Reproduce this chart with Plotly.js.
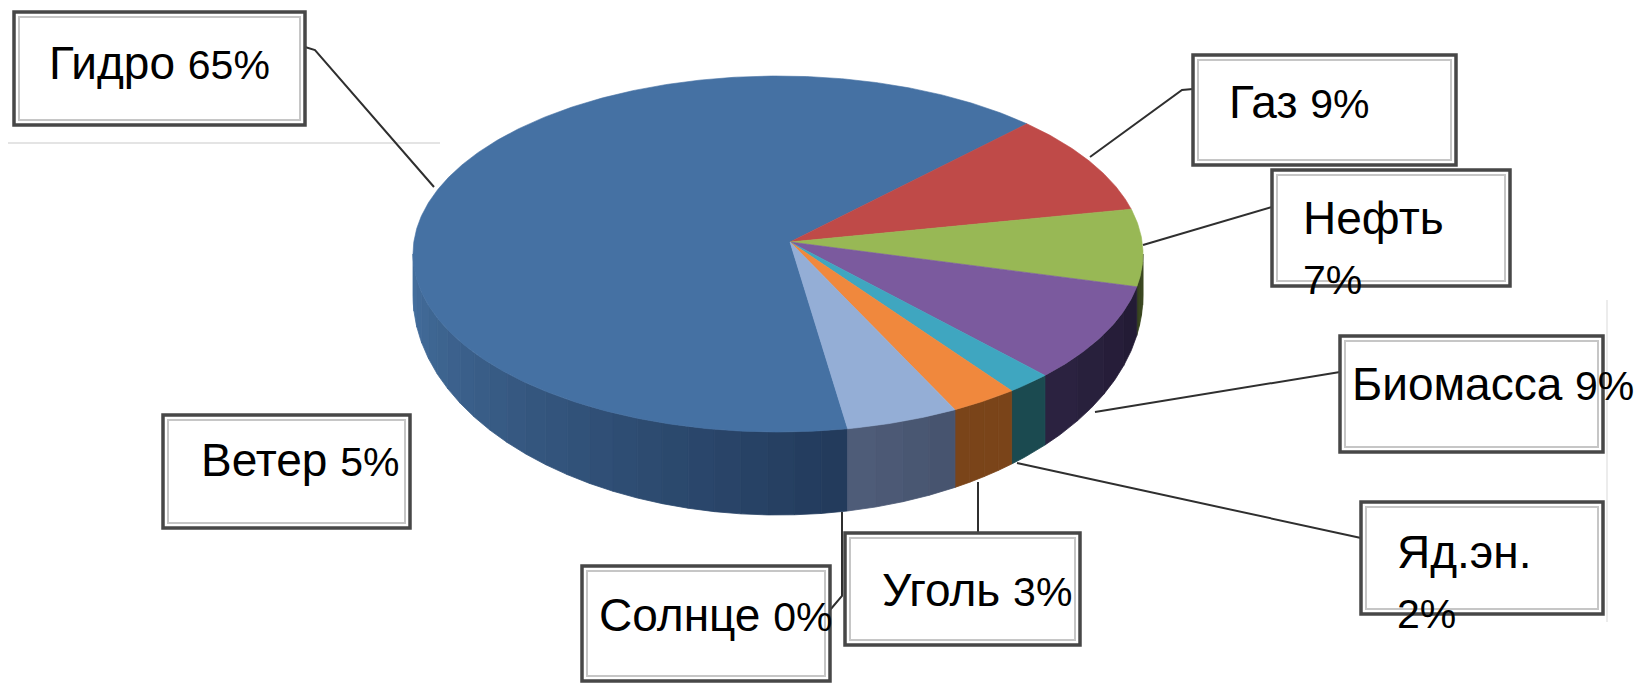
<!DOCTYPE html>
<html>
<head>
<meta charset="utf-8">
<script src="https://cdn.plot.ly/plotly-3.0.1.min.js"></script>
<style>
  html, body { margin: 0; padding: 0; background: #ffffff; }
  #chart { width: 1643px; height: 683px; }
</style>
</head>
<body>
<div id="chart"></div>
<script>
// ---------------- data ----------------
const labels = ['Гидро', 'Газ', 'Нефть', 'Биомасса', 'Яд.эн.', 'Уголь', 'Солнце', 'Ветер'];
const values = [65, 9, 7, 9, 2, 3, 0, 5];

// ---------------- styles ----------------
const topColors = ['#4571A3', '#BF4A48', '#98B855', '#7B5A9E', '#3FA6C0', '#F0883D', '#A5A5A5', '#94AED6'];
const sideColors = [
  ['#45709F', '#223A5B'],
  ['#6A2624', '#6A2624'],
  ['#3A4620', '#3A4620'],
  ['#2C2342', '#221A33'],
  ['#1B4A50', '#1B4A50'],
  ['#7A4419', '#7A4419'],
  ['#555555', '#555555'],
  ['#4F5D79', '#46536E']
];
// pie geometry (in page pixels, axes map 1:1 to pixels)
const pie = { cx: 778, cy: 254, a: 365, b: 178, t0: 41, dt: 42, apx: 790, apy: 242, start: 281 };

// label boxes [x0, x1, y0, y1]
const boxes = [
  [14, 305, 12, 125],
  [1193, 1456, 55, 165],
  [1272, 1510, 170, 286],
  [1340, 1603, 336, 452],
  [1361, 1603, 502, 614],
  [845, 1080, 533, 645],
  [582, 830, 566, 681],
  [163, 410, 415, 528]
];
const textPos = [
  [47, 63], [1227, 102], [1301, 247], [1350, 384], [1395, 581], [880, 590], [597, 615], [199, 460]
];
const seps = [' ', ' ', '<br>', ' ', '<br>', ' ', ' ', ' '];
const leaders = [
  'M 305 47 L 315 50 L 434 187',
  'M 1090 157 L 1182 90 L 1193 89',
  'M 1143 245 L 1272 207',
  'M 1095 412 L 1340 372',
  'M 1017 463 L 1361 538',
  'M 978 482 L 978 533',
  'M 842 512 L 842 596 L 830 610',
  null
];

// ---------------- geometry helpers ----------------
function rimPt(th, bottom) {
  const r = th * Math.PI / 180;
  const c = Math.cos(r), s = Math.sin(r);
  if (!bottom) return [pie.cx + pie.a * c, pie.cy - pie.b * s];
  return [pie.cx + pie.a * c, pie.cy + pie.t0 - (pie.b + pie.dt) * s];
}
function hex2rgb(h) { h = h.replace('#', ''); return [0, 2, 4].map(i => parseInt(h.substr(i, 2), 16)); }
function lerpColor(c0, c1, f) {
  const a = hex2rgb(c0), b = hex2rgb(c1);
  const m = a.map((v, i) => Math.round(v + (b[i] - v) * f));
  return 'rgb(' + m.join(',') + ')';
}

const total = values.reduce((s, v) => s + v, 0);
const sideTraces = [];
const topTraces = [];
let cur = pie.start;
values.forEach((v, i) => {
  const span = v / total * 360;
  const s0 = cur, s1 = cur - span;
  cur = s1;
  if (span <= 0) return;
  // top face
  const xs = [pie.apx], ys = [pie.apy];
  const n = Math.max(2, Math.ceil(span / 0.5));
  for (let k = 0; k <= n; k++) {
    const p = rimPt(s0 - span * k / n, false);
    xs.push(p[0]); ys.push(p[1]);
  }
  xs.push(pie.apx); ys.push(pie.apy);
  topTraces.push({
    type: 'scatter', mode: 'lines', x: xs, y: ys, fill: 'toself',
    fillcolor: topColors[i], line: { color: topColors[i], width: 0.6 },
    hoverinfo: 'skip', showlegend: false, name: labels[i]
  });
  // side faces (front, lower half of ellipse)
  const lowers = [[-180, 0], [180, 360], [540, 720]];
  lowers.forEach(iv => {
    const u = Math.max(iv[0], s1), w = Math.min(iv[1], s0);
    if (w - u <= 0.01) return;
    const nSeg = (i === 0) ? 24 : ((w - u) > 10 ? 4 : 1);
    for (let g = 0; g < nSeg; g++) {
      const ta = u + (w - u) * g / nSeg;
      const tb = u + (w - u) * (g + 1) / nSeg;
      const f = (g + 0.5) / nSeg;
      const col = lerpColor(sideColors[i][0], sideColors[i][1], f);
      const sx = [], sy = [];
      const m = Math.max(2, Math.ceil((tb - ta) / 0.5));
      for (let k = 0; k <= m; k++) { const p = rimPt(ta + (tb - ta) * k / m, false); sx.push(p[0]); sy.push(p[1]); }
      for (let k = m; k >= 0; k--) { const p = rimPt(ta + (tb - ta) * k / m, true); sx.push(p[0]); sy.push(p[1]); }
      sx.push(sx[0]); sy.push(sy[0]);
      sideTraces.push({
        type: 'scatter', mode: 'lines', x: sx, y: sy, fill: 'toself',
        fillcolor: col, line: { color: col, width: 0.8 },
        hoverinfo: 'skip', showlegend: false, name: labels[i] + ' side'
      });
    }
  });
});

// ---------------- labels: boxes, texts, leader lines ----------------
const shapes = [];
shapes.push({ type: 'line', xref: 'x', yref: 'y', x0: 8, x1: 440, y0: 143, y1: 143, line: { color: '#e4e4e4', width: 2 }, layer: 'below' });
shapes.push({ type: 'line', xref: 'x', yref: 'y', x0: 1607, x1: 1607, y0: 300, y1: 622, line: { color: '#ececec', width: 2 }, layer: 'below' });

leaders.forEach(p => {
  if (!p) return;
  shapes.push({ type: 'path', xref: 'x', yref: 'y', path: p, line: { color: '#2f2f2f', width: 2 } });
});
boxes.forEach(bx => {
  shapes.push({ type: 'rect', xref: 'x', yref: 'y', x0: bx[0], x1: bx[1], y0: bx[2], y1: bx[3],
    fillcolor: '#ffffff', line: { color: '#474747', width: 3.5 } });
  shapes.push({ type: 'rect', xref: 'x', yref: 'y', x0: bx[0] + 5, x1: bx[1] - 5, y0: bx[2] + 5, y1: bx[3] - 5,
    fillcolor: 'rgba(0,0,0,0)', line: { color: '#c6c6c6', width: 2 } });
});

const annotations = labels.map((lab, i) => ({
  xref: 'x', yref: 'y', x: textPos[i][0], y: textPos[i][1],
  xanchor: 'left', yanchor: 'middle', align: 'left', showarrow: false,
  text: lab + seps[i] + '<span style="font-size:41px">' + values[i] + '%</span>',
  font: { family: 'Liberation Sans, Arial, sans-serif', size: 46, color: '#000000' }
}));

const layout = {
  width: 1643, height: 683,
  margin: { l: 0, r: 0, t: 0, b: 0 },
  paper_bgcolor: '#ffffff', plot_bgcolor: '#ffffff',
  xaxis: { range: [0, 1643], visible: false, fixedrange: true },
  yaxis: { range: [683, 0], visible: false, fixedrange: true },
  showlegend: false,
  shapes: shapes,
  annotations: annotations,
  hovermode: false
};

Plotly.newPlot('chart', sideTraces.concat(topTraces), layout, { staticPlot: true, displayModeBar: false });
</script>
</body>
</html>
